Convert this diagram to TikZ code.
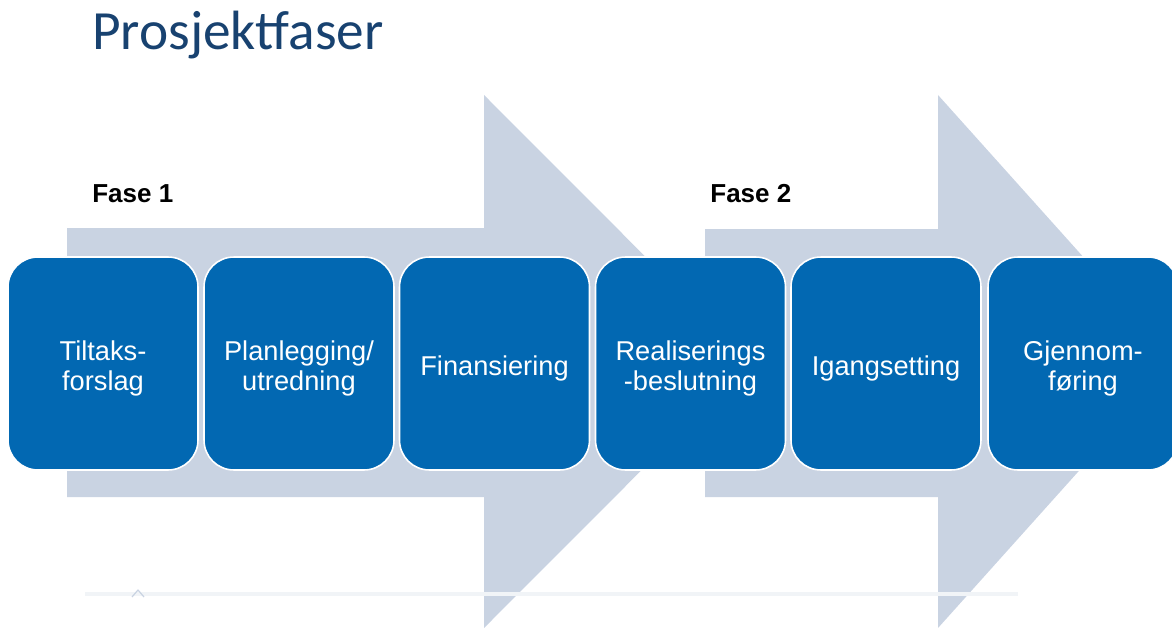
\documentclass[tikz,border=0pt]{standalone}
\usepackage{fontspec}
\setmainfont{Liberation Sans}
\newfontfamily\titlefont{Carlito}
\definecolor{pilgraa}{RGB}{201,211,226}
\definecolor{fasebla}{RGB}{2,104,178}
\definecolor{tittelbla}{RGB}{24,66,112}
\definecolor{strek}{RGB}{241,244,247}
\begin{document}
\begin{tikzpicture}[x=0.02cm,y=-0.02cm,line join=round,
	fase/.style={draw=white,line width=0.9pt,fill=fasebla,rounded corners=17pt,minimum width=3.8cm,minimum height=4.26cm,align=center,text=white,font=\fontsize{15.5}{17.3}\selectfont},
	pil/.style={fill=pilgraa},
	overskrift/.style={anchor=base west,inner sep=0pt,font=\bfseries\fontsize{14.8}{16}\selectfont}]
	\useasboundingbox (0,0) rectangle (1172,628);
	\clip (0,0) rectangle (1172,628);
	% bakgrunnspiler
	\fill[pil] (67,228)--(484,228)--(484,95)--(750,361.5)--(484,628)--(484,497)--(67,497)--cycle;
	\fill[pil] (705,229)--(938,229)--(938,95)--(1177,361.5)--(938,628)--(938,497)--(705,497)--cycle;
	\draw[strek,line width=2pt] (85,594)--(1018,594);
	\draw[pilgraa,line width=0.7pt] (132,597)--(138,590)--(144,597);
	\node[anchor=base west,inner sep=0pt,text=tittelbla,font=\titlefont\fontsize{31.5}{33}\selectfont] (tittel) at (92,50) {Prosjektfaser};
	\node[overskrift] (fase1) at (92,202) {Fase 1};
	\node[overskrift] (fase2) at (710,202) {Fase 2};
	\foreach \n/\px/\t in {tiltak/103/{Tiltaks-\\forslag},plan/299/{Planlegging/\\utredning},finans/494.5/{Finansiering},real/690.5/{Realiserings\\-beslutning},igang/886/{Igangsetting},gjennom/1083/{Gjennom-\\føring}}
	\node[fase] (\n) at (\px,363.5) {\raisebox{-3.5pt}[\height][\depth]{\begin{tabular}{@{}c@{}}\t\end{tabular}}};
\end{tikzpicture}
\end{document}
